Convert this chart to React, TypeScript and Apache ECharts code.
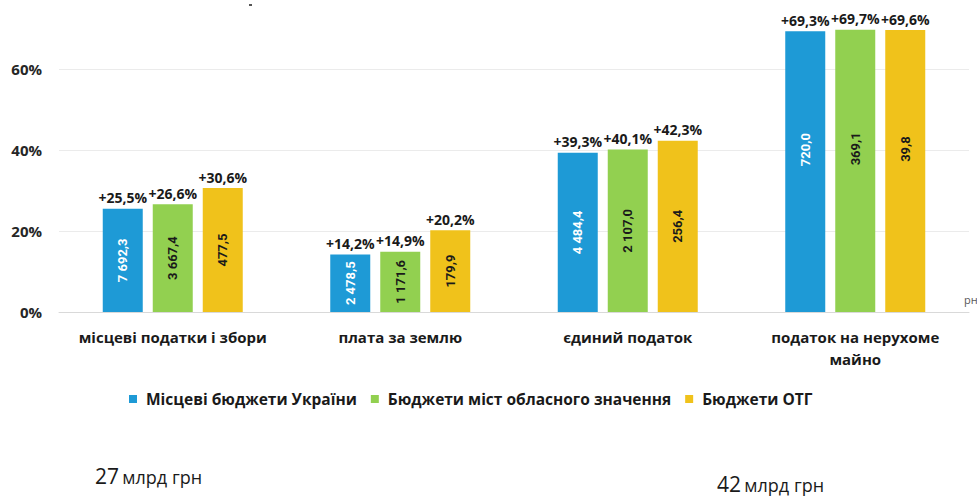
import React, { useEffect, useRef } from "react";
import * as echarts from "echarts";

const categories = [
  "місцеві податки і збори",
  "плата за землю",
  "єдиний податок",
  "податок на нерухоме\nмайно",
];
const seriesNames = [
  "Місцеві бюджети України",
  "Бюджети міст обласного значення",
  "Бюджети ОТГ",
];
const growthUkraine = [25.5, 14.2, 39.3, 69.3];
const growthCities = [26.6, 14.9, 40.1, 69.7];
const growthOtg = [30.6, 20.2, 42.3, 69.6];
const amountUkraine = [7692.3, 2478.5, 4484.4, 720.0];
const amountCities = [3667.4, 1171.6, 2107.0, 369.1];
const amountOtg = [477.5, 179.9, 256.4, 39.8];
const yTicks = [0, 20, 40, 60];
const totals = [
  { big: "27", small: "млрд грн" },
  { big: "42", small: "млрд грн" },
];

const colors = ["#1E9AD6", "#92D050", "#F0C21B"];
const insideColors = ["#ffffff", "#1a1a1a", "#1a1a1a"];
const FONT = "'Open Sans', Roboto, sans-serif";
const FONT_IN = "Roboto, 'Open Sans', sans-serif";

function fmtAmount(v: number): string {
  const s = v.toFixed(1);
  const [i, d] = s.split(".");
  const withSpaces = i.replace(/\B(?=(\d{3})+(?!\d))/g, " ");
  return withSpaces + "," + d;
}
function fmtGrowth(v: number): string {
  return "+" + v.toFixed(1).replace(".", ",") + "%";
}

export default function App() {
  const ref = useRef<HTMLDivElement>(null);
  useEffect(() => {
    if (!ref.current) return;
    const chart = echarts.init(ref.current, null, { renderer: "svg" });
    const growths = [growthUkraine, growthCities, growthOtg];
    const amounts = [amountUkraine, amountCities, amountOtg];
    const series: any[] = [];
    growths.forEach((g, si) => {
      series.push({
        name: seriesNames[si],
        type: "bar",
        stack: "s" + si,
        barWidth: 40,
        barGap: "25%",
        itemStyle: { color: colors[si] },
        data: g.map((v, i) => ({
          value: v,
          label: i === 3 ? { offset: [22, 0] } : undefined,
        })),
        label: {
          show: true,
          position: "inside",
          rotate: 90,
          fontFamily: FONT_IN,
          fontSize: 13,
          fontWeight: "bold",
          color: insideColors[si],
          formatter: (p: any) => fmtAmount(amounts[si][p.dataIndex]),
        },
      });
    });
    growths.forEach((g, si) => {
      series.push({
        name: seriesNames[si] + " приріст",
        type: "bar",
        stack: "s" + si,
        barWidth: 40,
        barGap: "25%",
        itemStyle: { color: "rgba(0,0,0,0)" },
        data: g.map(() => 0),
        label: {
          show: true,
          position: "top",
          distance: 4,
          fontFamily: FONT,
          fontSize: 14,
          fontWeight: "bold",
          color: "#1a1a1a",
          formatter: (p: any) => fmtGrowth(g[p.dataIndex]),
        },
      });
    });

    chart.setOption({
      animation: false,
      textStyle: { fontFamily: FONT },
      grid: { left: 59, right: 977 - 969, top: 312 - 70 * 4.05, bottom: 496 - 312 },
      legend: {
        data: seriesNames.map((n) => ({ name: n, icon: "rect" })),
        left: 124,
        top: 386,
        itemWidth: 8,
        itemHeight: 8,
        itemGap: 14,
        textStyle: {
          fontFamily: FONT,
          fontSize: 15.5,
          fontWeight: "bold",
          color: "#1a1a1a",
          padding: [0, 0, 0, 4],
        },
      },
      xAxis: {
        type: "category",
        data: categories,
        axisLine: { lineStyle: { color: "#d9d9d9", width: 1 } },
        axisTick: { show: false },
        axisLabel: {
          interval: 0,
          hideOverlap: false,
          margin: 14,
          fontFamily: FONT,
          fontSize: 15,
          fontWeight: "bold",
          color: "#1a1a1a",
          lineHeight: 22,
        },
      },
      yAxis: {
        type: "value",
        min: 0,
        max: 70,
        interval: 20,
        axisLine: { show: false },
        axisTick: { show: false },
        splitLine: { showMaxLine: false, lineStyle: { color: "#ebebeb" } },
        axisLabel: {
          margin: 17,
          showMaxLabel: false,
          fontFamily: FONT,
          fontSize: 15,
          fontWeight: "bold",
          color: "#262626",
          formatter: (v: number) => (yTicks.includes(v) ? v + "%" : ""),
        },
      },
      graphic: [
        {
          type: "rect",
          left: 249,
          top: 4,
          shape: { width: 3, height: 2 },
          style: { fill: "#555" },
        },
        {
          type: "text",
          left: 964,
          top: 294,
          style: { text: "рн", fontFamily: FONT, fontSize: 11, fill: "#595959" },
        },
        {
          type: "text",
          left: 95,
          top: 465,
          style: {
            text: "{a|" + totals[0].big + "} {b|" + totals[0].small + "}",
            rich: {
              a: { fontFamily: FONT, fontSize: 21, fill: "#1a1a1a", verticalAlign: "bottom" },
              b: { fontFamily: FONT, fontSize: 18, fill: "#1a1a1a", verticalAlign: "bottom" },
            },
          },
        },
        {
          type: "text",
          left: 717,
          top: 473,
          style: {
            text: "{a|" + totals[1].big + "} {b|" + totals[1].small + "}",
            rich: {
              a: { fontFamily: FONT, fontSize: 21, fill: "#1a1a1a", verticalAlign: "bottom" },
              b: { fontFamily: FONT, fontSize: 18, fill: "#1a1a1a", verticalAlign: "bottom" },
            },
          },
        },
      ],
      series,
    });
    return () => chart.dispose();
  }, []);
  return (
    <div
      ref={ref}
      style={{ position: "absolute", left: 0, top: 0, width: 977, height: 496, background: "#fff" }}
    />
  );
}
